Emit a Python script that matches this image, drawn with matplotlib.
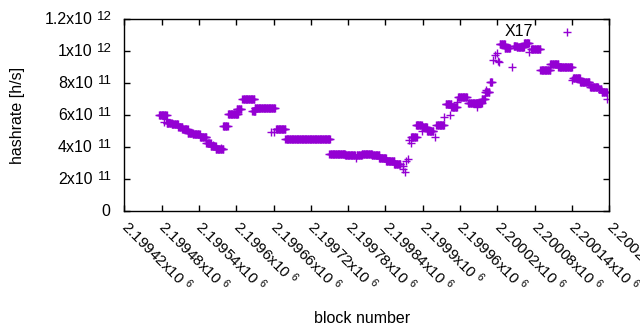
import numpy as np
import matplotlib
matplotlib.use("Agg")
import matplotlib.pyplot as plt
from matplotlib.transforms import blended_transform_factory

plt.rcParams['font.family'] = ['Liberation Sans', 'DejaVu Sans']
plt.rcParams['mathtext.fontset'] = 'custom'
plt.rcParams['mathtext.rm'] = 'Liberation Sans'
plt.rcParams['mathtext.it'] = 'Liberation Sans'

# Constant-hashrate runs: start block, end block, hashrate [h/s]
run_start = [2199476, 2199488, 2199496, 2199507, 2199513, 2199522, 2199530, 2199542, 2199552, 2199559,
             2199567, 2199579, 2199587, 2199601, 2199610, 2199626, 2199630, 2199664, 2199679, 2199750,
             2199775, 2199794, 2199802, 2199818, 2199830, 2199841, 2199854, 2199881, 2199889, 2199898,
             2199907, 2199922, 2199937, 2199946, 2199957, 2199973, 2199987, 2199995, 2200000, 2200008,
             2200024, 2200032, 2200046, 2200051, 2200063, 2200074, 2200089, 2200105, 2200118, 2200142,
             2200153, 2200169, 2200183, 2200188]
run_end = [2199488, 2199496, 2199506, 2199513, 2199522, 2199530, 2199541, 2199552, 2199559, 2199567,
           2199579, 2199586, 2199603, 2199608, 2199629, 2199631, 2199662, 2199679, 2199751, 2199775,
           2199791, 2199802, 2199818, 2199830, 2199841, 2199854, 2199864, 2199890, 2199898, 2199907,
           2199917, 2199934, 2199946, 2199955, 2199971, 2199987, 2199995, 2200000, 2200007, 2200011,
           2200032, 2200040, 2200051, 2200063, 2200071, 2200089, 2200105, 2200118, 2200140, 2200153,
           2200168, 2200182, 2200187, 2200196]
run_value = [6.03e11, 5.50e11, 5.42e11, 5.27e11, 5.10e11, 4.90e11, 4.80e11, 4.60e11, 4.23e11, 4.05e11,
             3.85e11, 5.29e11, 6.04e11, 6.35e11, 7.00e11, 6.23e11, 6.42e11, 5.10e11, 4.48e11, 3.54e11,
             3.48e11, 3.52e11, 3.58e11, 3.47e11, 3.33e11, 3.12e11, 2.96e11, 4.60e11, 5.37e11, 5.27e11,
             5.00e11, 5.40e11, 6.69e11, 6.48e11, 7.12e11, 6.73e11, 6.75e11, 7.00e11, 7.46e11, 8.08e11,
             1.044e12, 1.019e12, 1.034e12, 1.025e12, 1.048e12, 1.01e12, 8.80e11, 9.17e11, 8.98e11, 8.31e11,
             8.09e11, 7.77e11, 7.60e11, 7.44e11]

# Isolated blocks
single_block = [2199484, 2199487, 2199563, 2199575, 2199656, 2199660, 2199792, 2199868, 2199869, 2199871,
                2199873, 2199876, 2199878, 2199881, 2199898, 2199920, 2199934, 2199944, 2199955, 2199987,
                2200001, 2200013, 2200016, 2200019, 2200021, 2200023, 2200043, 2200071, 2200132, 2200140,
                2200197]
single_value = [5.58e11, 5.75e11, 4.15e11, 3.95e11, 4.92e11, 4.92e11, 3.29e11, 2.80e11, 2.62e11, 2.46e11,
                3.10e11, 3.23e11, 4.44e11, 4.23e11, 5.02e11, 4.60e11, 5.85e11, 6.00e11, 6.83e11, 6.48e11,
                7.56e11, 9.44e11, 9.75e11, 9.85e11, 9.40e11, 9.33e11, 8.98e11, 9.96e11, 1.117e12, 8.19e11,
                6.98e11]

xticks = [2199420 + 60 * i for i in range(14)]
xtick_labels = ["2.19942", "2.19948", "2.19954", "2.1996", "2.19966", "2.19972", "2.19978",
                "2.19984", "2.1999", "2.19996", "2.20002", "2.20008", "2.20014", "2.2002"]
yticks = [0, 2e11, 4e11, 6e11, 8e11, 1e12, 1.2e12]
ytick_base = ["0", "2x10", "4x10", "6x10", "8x10", "1x10", "1.2x10"]
ytick_exp = ["", "11", "11", "11", "11", "12", "12"]

bx, by = [], []
for s, e, v in zip(run_start, run_end, run_value):
    blocks = np.arange(s, e + 1)
    bx.extend(blocks)
    by.extend([v] * len(blocks))
bx.extend(single_block)
by.extend(single_value)

fig = plt.figure(figsize=(6.4, 3.3), dpi=100)
ax = fig.add_axes([124.3 / 640, 1 - 211 / 330, 485 / 640, 192 / 330])
color = '#9400D3'
ax.plot(bx, by, linestyle='none', marker='+', ms=5.2, mew=1.0, color=color)

ax.set_xlim(2199420, 2200200)
ax.set_ylim(0, 1.2e12)
ax.set_xticks(xticks)
ax.set_xticklabels([l + "x10 $^{6}$" for l in xtick_labels], rotation=-45, ha='left', va='center',
                   rotation_mode='anchor')
ax.set_yticks(yticks)
ax.set_yticklabels([""] * len(yticks))
ax.tick_params(direction='in', length=4, width=1, top=True, right=True, labelsize=11, colors='black')
ax.tick_params(axis='x', pad=9)
for sp in ax.spines.values():
    sp.set_linewidth(1)

# y tick labels drawn as base + raised exponent (gnuplot enhanced-text style)
ytr = blended_transform_factory(ax.transAxes, ax.transData)
for v, b, e in zip(yticks, ytick_base, ytick_exp):
    if e:
        ax.annotate(b, xy=(0, v), xycoords=ytr, xytext=(-31.5, 0), textcoords='offset pixels',
                    ha='right', va='center', fontsize=11.5, annotation_clip=False)
        ax.annotate(e, xy=(0, v), xycoords=ytr, xytext=(-12.5, 2.5), textcoords='offset pixels',
                    ha='right', va='center', fontsize=9.5, annotation_clip=False)
    else:
        ax.annotate(b, xy=(0, v), xycoords=ytr, xytext=(-14, 0), textcoords='offset pixels',
                    ha='right', va='center', fontsize=11.5, annotation_clip=False)

ax.set_xlabel('block number', fontsize=11.5)
ax.xaxis.set_label_coords(0.49, -0.52)
ax.set_ylabel('hashrate [h/s]', fontsize=11.5)
ax.yaxis.set_label_coords(-0.205, 0.5)

ax.text(2200055, 1.12e12, 'X17', ha='center', va='center', fontsize=11.5)

fig.savefig('out.png', dpi=100)
